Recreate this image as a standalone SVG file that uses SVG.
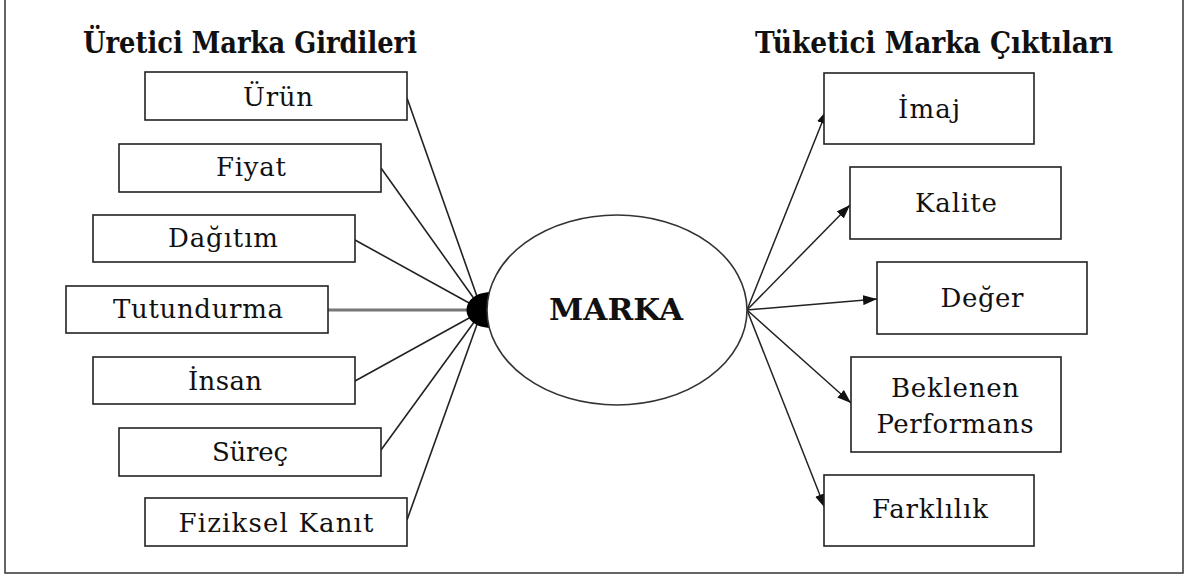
<svg xmlns="http://www.w3.org/2000/svg" width="1190" height="578" viewBox="0 0 1190 578">
  <defs>
    <style>
      .frame { fill: #fff; stroke: #333; stroke-width: 1.5; }
      .box { fill: #fff; stroke: #222; stroke-width: 1.6; }
      .lbl { font-family: 'DejaVu Serif', serif; font-size: 26px; fill: #111; text-anchor: middle; }
      .title { font-family: 'DejaVu Serif', serif; font-size: 29px; font-weight: bold; fill: #111; }
      .core { font-family: 'DejaVu Serif', serif; font-size: 29px; font-weight: bold; fill: #111; text-anchor: middle; }
      .in { stroke: #222; stroke-width: 1.6; fill: none; }
      .out { stroke: #222; stroke-width: 1.5; fill: none; marker-end: url(#arrow); }
    </style>
    <marker id="arrow" viewBox="0 0 14 10" refX="14" refY="5" markerWidth="14" markerHeight="10" markerUnits="userSpaceOnUse" orient="auto">
      <path d="M0,0 L14,5 L0,10 Z" fill="#111"/>
    </marker>
  </defs>

  <!-- outer frame (top edge sits above the canvas) -->
  <rect class="frame" x="5" y="-5" width="1178" height="578"/>

  <!-- column headings -->
  <text class="title" x="83" y="53" textLength="334" lengthAdjust="spacingAndGlyphs">Üretici Marka Girdileri</text>
  <text class="title" x="755" y="53" textLength="358" lengthAdjust="spacingAndGlyphs">Tüketici Marka Çıktıları</text>

  <!-- connectors -->
  <g id="connectors">
    <line class="in" x1="407" y1="98" x2="480" y2="305"/>
    <line class="in" x1="381" y1="168" x2="480" y2="307"/>
    <line class="in" x1="355" y1="240" x2="480" y2="309"/>
    <line x1="328" y1="310" x2="478" y2="310" stroke="#777" stroke-width="3"/>
    <line class="in" x1="355" y1="381" x2="480" y2="312"/>
    <line class="in" x1="381" y1="450" x2="480" y2="314"/>
    <line class="in" x1="407" y1="520" x2="480" y2="316"/>
    <path d="M492,292 C458,292 458,328 492,328 Z" fill="#000"/>

    <line class="out" x1="747" y1="310" x2="827" y2="110"/>
    <line class="out" x1="747" y1="310" x2="850" y2="205"/>
    <line class="out" x1="747" y1="310" x2="877" y2="299"/>
    <line class="out" x1="747" y1="310" x2="851" y2="403"/>
    <line class="out" x1="747" y1="310" x2="825" y2="508"/>
  </g>

  <!-- central node -->
  <g id="marka">
    <ellipse cx="617" cy="310" rx="130" ry="95" fill="#fff" stroke="#333" stroke-width="1.6"/>
    <text class="core" x="616" y="320" textLength="134" lengthAdjust="spacingAndGlyphs">MARKA</text>
  </g>

  <!-- producer inputs -->
  <g id="urun">
    <rect class="box" x="145" y="72" width="262" height="48"/>
    <text class="lbl" x="278" y="106" textLength="70">Ürün</text>
  </g>
  <g id="fiyat">
    <rect class="box" x="119" y="144" width="262" height="48"/>
    <text class="lbl" x="251" y="176" textLength="70">Fiyat</text>
  </g>
  <g id="dagitim">
    <rect class="box" x="93" y="215" width="262" height="47"/>
    <text class="lbl" x="223" y="247" textLength="110">Dağıtım</text>
  </g>
  <g id="tutundurma">
    <rect class="box" x="66" y="286" width="262" height="47"/>
    <text class="lbl" x="198" y="318" textLength="170">Tutundurma</text>
  </g>
  <g id="insan">
    <rect class="box" x="93" y="357" width="262" height="47"/>
    <text class="lbl" x="225" y="390" textLength="74">İnsan</text>
  </g>
  <g id="surec">
    <rect class="box" x="119" y="428" width="262" height="48"/>
    <text class="lbl" x="250" y="461" textLength="76">Süreç</text>
  </g>
  <g id="fiziksel-kanit">
    <rect class="box" x="145" y="498" width="262" height="48"/>
    <text class="lbl" x="276" y="532" textLength="195">Fiziksel Kanıt</text>
  </g>

  <!-- consumer outputs -->
  <g id="imaj">
    <rect class="box" x="824" y="73" width="210" height="71"/>
    <text class="lbl" x="929" y="118" textLength="62">İmaj</text>
  </g>
  <g id="kalite">
    <rect class="box" x="850" y="167" width="211" height="72"/>
    <text class="lbl" x="956" y="212" textLength="82">Kalite</text>
  </g>
  <g id="deger">
    <rect class="box" x="877" y="262" width="210" height="72"/>
    <text class="lbl" x="982" y="307" textLength="83">Değer</text>
  </g>
  <g id="beklenen-performans">
    <rect class="box" x="851" y="357" width="210" height="95"/>
    <text class="lbl" x="955" y="397" textLength="128">Beklenen</text>
    <text class="lbl" x="955" y="433" textLength="157">Performans</text>
  </g>
  <g id="farklilik">
    <rect class="box" x="824" y="475" width="210" height="71"/>
    <text class="lbl" x="930" y="518" textLength="116">Farklılık</text>
  </g>
</svg>
